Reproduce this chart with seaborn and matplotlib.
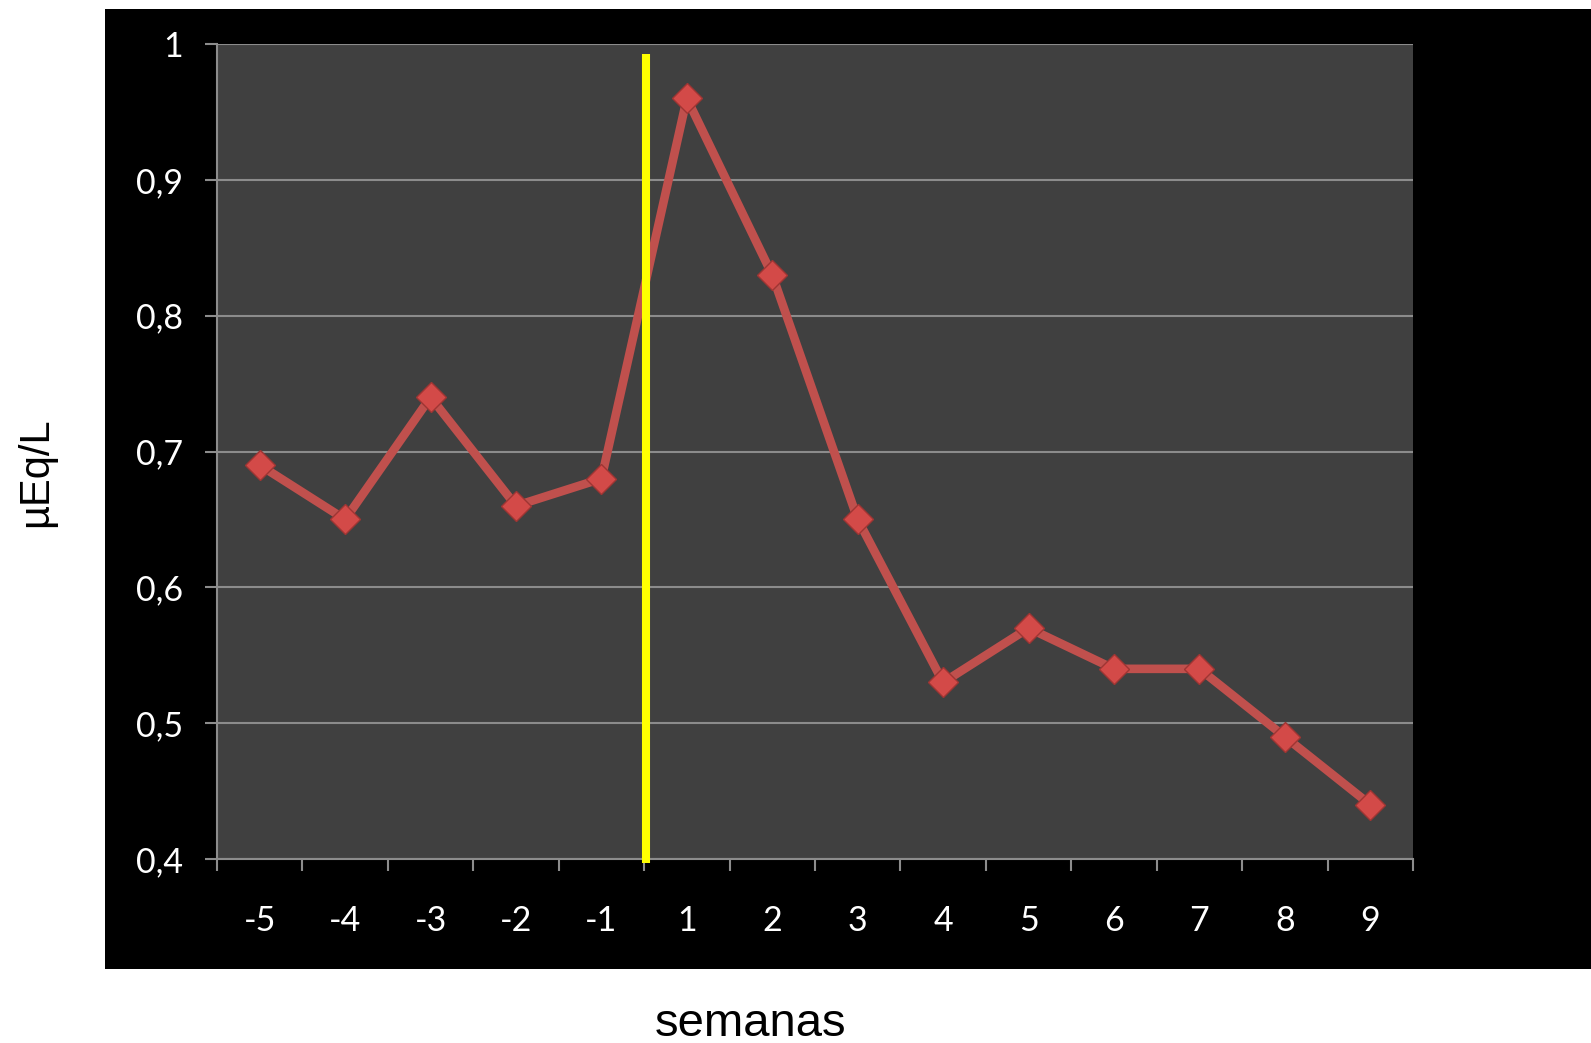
import numpy as np
import pandas as pd
import matplotlib
matplotlib.use('Agg')
import matplotlib.pyplot as plt
import seaborn as sns
from matplotlib.patches import Rectangle
from matplotlib.ticker import FixedLocator, FuncFormatter

# Données
semanas = ['-5', '-4', '-3', '-2', '-1', '1', '2', '3', '4', '5', '6', '7', '8', '9']
valores = [0.69, 0.65, 0.74, 0.66, 0.68, 0.96, 0.83, 0.65, 0.53, 0.57, 0.54, 0.54, 0.49, 0.44]
y_ticks = [0.4, 0.5, 0.6, 0.7, 0.8, 0.9, 1.0]
corte_semana = '1'          # la línea amarilla marca el inicio de la semana 1
corte_y = (0.397, 0.993)

df = pd.DataFrame({'semana': semanas, 'valor': valores})

sns.set_theme(style='dark')
plt.rcParams['font.family'] = ['Lato', 'DejaVu Sans']

fig = plt.figure(figsize=(15.91, 10.43), dpi=100)
fig.patch.set_facecolor('white')

# fondo negro del gráfico
fig.patches.append(Rectangle((105 / 1591, 1 - 969 / 1043), 1 - 105 / 1591, 960 / 1043,
                             transform=fig.transFigure, facecolor='black',
                             edgecolor='none', zorder=-10))

ax = fig.add_axes([217 / 1591, 1 - 859 / 1043, 1196 / 1591, 815 / 1043])
ax.set_zorder(5)
ax.set_facecolor('#404040')

red = '#C0504D'
sns.lineplot(data=df, x='semana', y='valor', sort=False, ax=ax, color=red,
             linewidth=6.2, marker='D', markersize=15,
             markerfacecolor='#D34A48', markeredgecolor='#9E3533',
             markeredgewidth=1.0, zorder=3)

x_corte = semanas.index(corte_semana) - 0.5
ax.vlines(x_corte + 0.02, corte_y[0], corte_y[1], color='#FFFF00', linewidth=5.8,
          zorder=4, clip_on=False)

n = len(semanas)
ax.set_xlim(-0.5, n - 0.5)
ax.set_ylim(0.4, 1.0)

# ticks estilo Excel: marcas en los bordes, etiquetas en el centro
ax.xaxis.set_major_locator(FixedLocator(np.arange(-0.5, n, 1.0)))
ax.xaxis.set_minor_locator(FixedLocator(np.arange(n)))
ax.xaxis.set_major_formatter(FuncFormatter(lambda x, _: ''))
ax.xaxis.set_minor_formatter(FuncFormatter(lambda x, _: semanas[int(round(x))]))
ax.tick_params(axis='x', which='major', length=8.6, width=1.5, color='#8C8C8C',
               direction='out', bottom=True)
ax.tick_params(axis='x', which='minor', length=0, pad=33, labelsize=24.5,
               labelcolor='white', bottom=True)

ax.set_yticks(y_ticks)
ax.yaxis.set_major_formatter(FuncFormatter(lambda y, _: f'{y:g}'.replace('.', ',')))
ax.tick_params(axis='y', length=8.6, width=1.5, color='#8C8C8C', direction='out',
               pad=16, labelsize=24.5, labelcolor='white', left=True)

ax.grid(axis='y', color='#8C8C8C', linewidth=1.5, zorder=1)
ax.grid(axis='x', visible=False)
ax.set_axisbelow(True)

for side in ['top', 'right']:
    ax.spines[side].set_visible(False)
for side in ['left', 'bottom']:
    ax.spines[side].set_color('#8C8C8C')
    ax.spines[side].set_linewidth(1.5)

ax.set_xlabel('')
ax.set_ylabel('')

fig.text(36 / 1591, 1 - 472 / 1043, 'µEq/L', rotation=90, ha='center', va='center',
         fontsize=30, color='black', family=['Liberation Sans', 'DejaVu Sans'])
fig.text(751 / 1591, 1 - 1036 / 1043, 'semanas', ha='center', va='baseline',
         fontsize=34, color='black', family=['Liberation Sans', 'DejaVu Sans'])

fig.savefig('out.png', dpi=100, facecolor='white')
plt.close()
